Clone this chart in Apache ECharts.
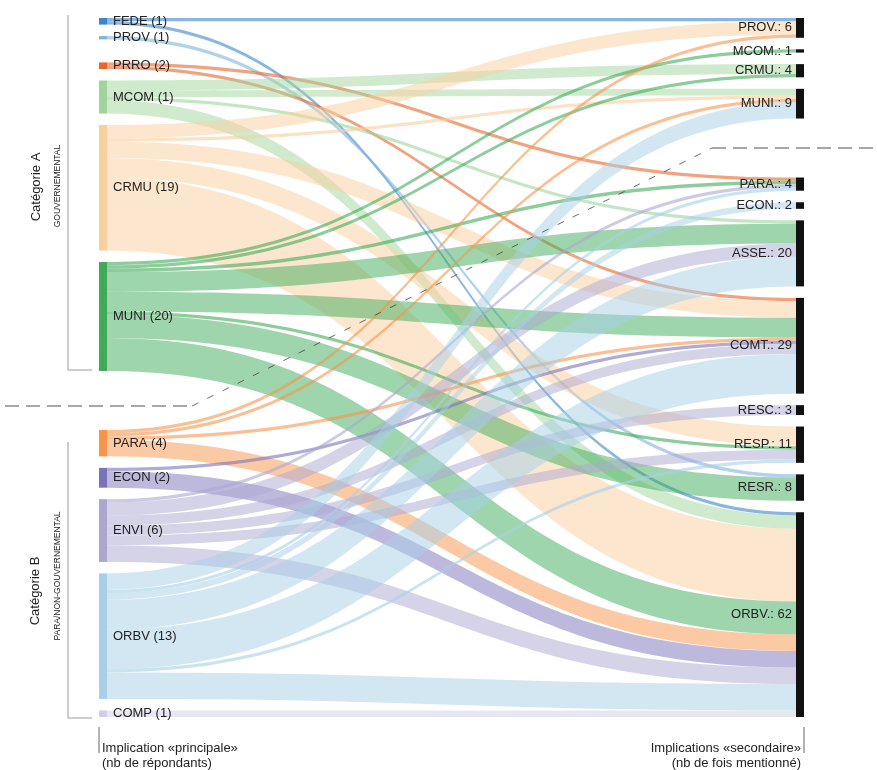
<!DOCTYPE html>
<html><head><meta charset="utf-8">
<script src="https://cdn.jsdelivr.net/npm/echarts@6/dist/echarts.min.js"></script>
<style>html,body{margin:0;padding:0;background:#fff}#c{width:877px;height:770px}</style>
</head><body><div id="c"></div>
<script>
// ---- data ----
const leftCodes = ['FEDE','PROV','PRRO','MCOM','CRMU','MUNI','PARA','ECON','ENVI','ORBV','COMP'];
const leftRespondents = [1,1,2,1,19,20,4,2,6,13,1];
const rightCodes = ['PROV.','MCOM.','CRMU.','MUNI.','PARA.','ECON.','ASSE.','COMT.','RESC.','RESP.','RESR.','ORBV.'];
const rightMentions = [6,1,4,9,4,2,20,29,3,11,8,62];
const linkSource = [
  'FEDE','FEDE',
  'PROV',
  'PRRO','PRRO',
  'MCOM','MCOM','MCOM','MCOM',
  'CRMU','CRMU','CRMU','CRMU','CRMU',
  'MUNI','MUNI','MUNI','MUNI','MUNI','MUNI','MUNI','MUNI',
  'PARA','PARA','PARA','PARA',
  'ECON','ECON',
  'ENVI','ENVI','ENVI','ENVI','ENVI','ENVI',
  'ORBV','ORBV','ORBV','ORBV','ORBV','ORBV','ORBV',
  'COMP'
];
const linkTarget = [
  'PROV.','ORBV.',
  'RESR.',
  'PARA.','COMT.',
  'CRMU.','MUNI.','ASSE.','ORBV.',
  'PROV.','MUNI.','COMT.','RESP.','ORBV.',
  'MCOM.','CRMU.','PARA.','ASSE.','COMT.','RESP.','RESR.','ORBV.',
  'PROV.','MUNI.','COMT.','ORBV.',
  'COMT.','ORBV.',
  'PARA.','ASSE.','COMT.','RESC.','RESP.','ORBV.',
  'MUNI.','PARA.','ECON.','ASSE.','COMT.','RESP.','ORBV.',
  'ORBV.'
];
const linkValue = [
  1,1,
  1,
  1,1,
  3,2,1,4,
  4,1,5,6,22,
  1,1,1,6,6,1,7,10,
  1,1,1,5,
  1,5,
  1,4,3,3,3,5,
  5,1,2,9,12,1,8,
  2
];

// ---- styles / layout ----
const leftColors = ['#3a86c8','#7fb2dc','#e8662c','#9fd59b','#f9cf9e','#3fab59','#f7954b','#7b73b9','#aba7d2','#a7d0e7','#cfcfe6'];
const rightColor = '#111111';
const SPACER_LEFT = 10.9;   // layout spacer between the two categories (value units)
const SPACER_RIGHT = 10.9;
const FONT = '"Liberation Sans", Arial, Helvetica, sans-serif';

function spacer(name, v, depth) {
  return {name: name, value: v, depth: depth,
    itemStyle: {color: 'rgba(0,0,0,0)', borderWidth: 0}, label: {show: false}};
}

const nodes = [];
leftCodes.forEach((c, i) => {
  nodes.push({
    name: c,
    itemStyle: {color: leftColors[i], borderWidth: 0},
    label: {position: 'right', distance: 6, formatter: c + ' (' + leftRespondents[i] + ')'}
  });
  if (c === 'PROV') nodes.push(spacer('__spT', 0, 0));
  if (c === 'MUNI') nodes.push(spacer('__spL', SPACER_LEFT, 0));
});
rightCodes.forEach((c, i) => {
  nodes.push({
    name: c,
    depth: 1,
    itemStyle: {color: rightColor, borderWidth: 0},
    label: {position: 'left', distance: 4, formatter: c + ': ' + rightMentions[i]}
  });
  if (c === 'MUNI.') nodes.push(spacer('__spR', SPACER_RIGHT, 1));
});

const links = linkSource.map((s, i) => ({
  source: s, target: linkTarget[i], value: linkValue[i],
  lineStyle: {color: leftColors[leftCodes.indexOf(s)], opacity: linkValue[i] <= 1 ? 0.6 : 0.5}
}));

const chart = echarts.init(document.getElementById('c'), null, {renderer: 'canvas'});

function rotText(text, x, y, size) {
  return {type: 'text', x: x, y: y, rotation: Math.PI / 2, z: 100,
    style: {text: text, fontSize: size, fontFamily: FONT, fill: '#222', align: 'center', verticalAlign: 'middle'}};
}
function txt(text, x, y, align) {
  return {type: 'text', x: x, y: y, z: 100,
    style: {text: text, fontSize: 13, fontFamily: FONT, fill: '#222', align: align, verticalAlign: 'middle'}};
}
function line(points, stroke, width, dash) {
  return {type: 'polyline', z: 100, silent: true, shape: {points: points},
    style: {stroke: stroke, lineWidth: width, fill: null, lineDash: dash || null}};
}

chart.setOption({
  animation: false,
  backgroundColor: '#ffffff',
  tooltip: {show: false},
  series: [{
    type: 'sankey',
    left: 99, right: 73, top: 18, bottom: 53,
    nodeWidth: 8,
    nodeGap: 11.5,
    layoutIterations: 0,
    draggable: false,
    emphasis: {disabled: true},
    label: {color: '#222', fontSize: 13, fontFamily: FONT},
    lineStyle: {curveness: 0.5},
    data: nodes,
    links: links
  }],
  graphic: [
    line([[68, 15], [68, 370], [92, 370]], '#9a9a9a', 1),
    line([[68, 442], [68, 718], [92, 718]], '#9a9a9a', 1),
    rotText('Catégorie A', 36, 187, 13),
    rotText('GOUVERNEMENTAL', 58, 186, 8.5),
    rotText('Catégorie B', 35, 591, 13),
    rotText('PARA/NON-GOUVERNEMENTAL', 58, 576, 8.5),
    line([[5, 406], [192, 406]], '#8a8a8a', 1.3, [14, 7]),
    line([[192, 406], [712, 148]], '#444', 0.8, [7, 10]),
    line([[712, 148], [877, 148]], '#8a8a8a', 1.3, [14, 7]),
    line([[99, 727], [99, 753]], '#666', 1),
    txt('Implication «principale»', 102, 748, 'left'),
    txt('(nb de répondants)', 102, 763, 'left'),
    line([[804, 727], [804, 753]], '#666', 1),
    txt('Implications «secondaire»', 801, 748, 'right'),
    txt('(nb de fois mentionné)', 801, 763, 'right')
  ]
});
</script>
</body></html>
